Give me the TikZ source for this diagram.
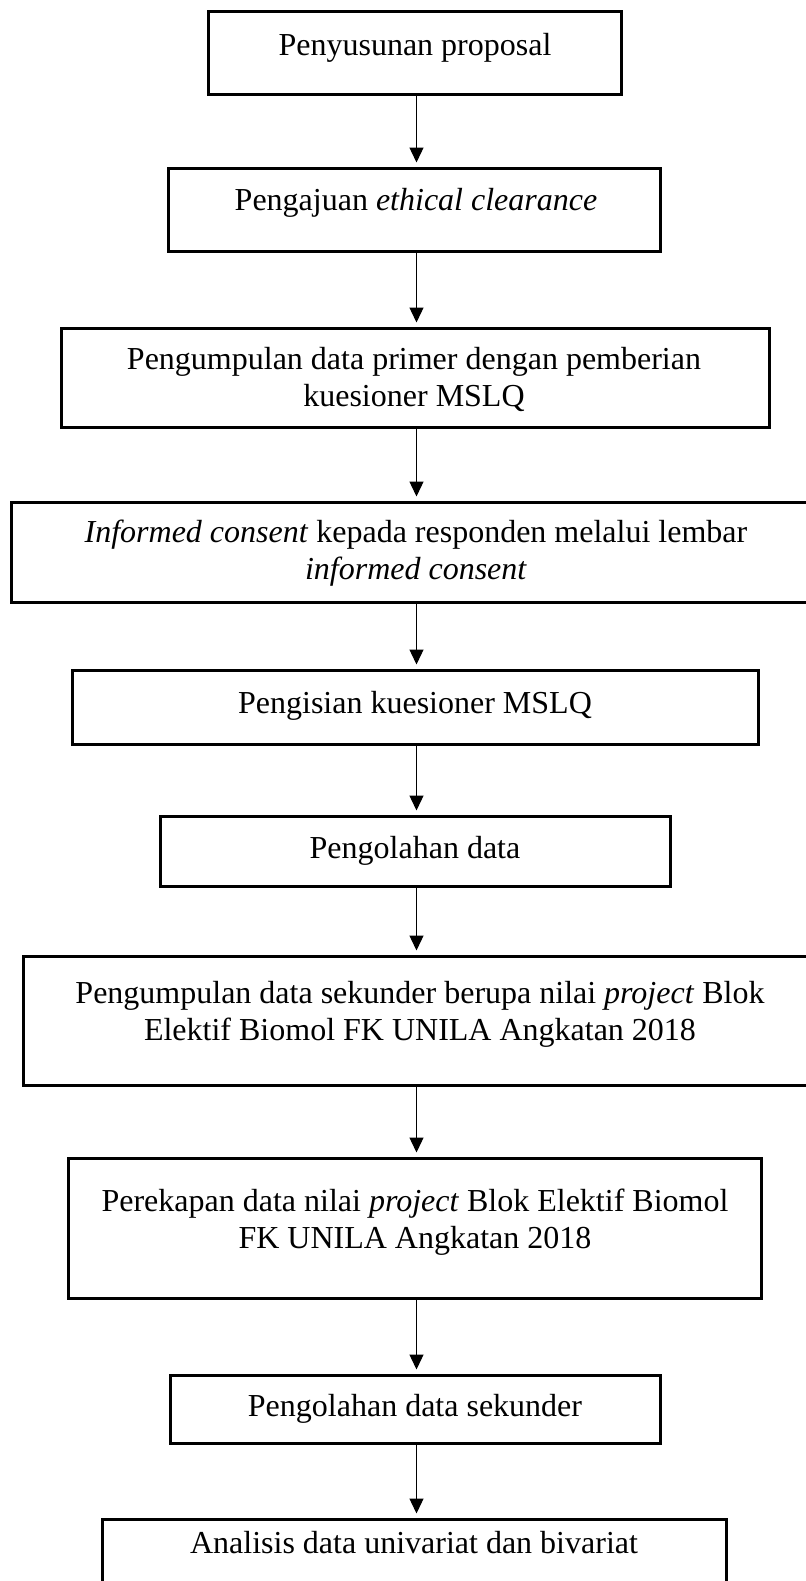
\documentclass[tikz,border=0pt]{standalone}
\usepackage{fontspec}
\setmainfont{Liberation Serif}
\usetikzlibrary{arrows.meta}
\begin{document}
\begin{tikzpicture}[x=0.5pt,y=-0.5pt,
  stepbox/.style={draw=black,line width=1.5pt,inner sep=0pt,fill=none},
  lbl/.style={inner sep=0pt,align=center,anchor=base,font=\fontsize{16}{18.5}\selectfont},
  arr/.style={line width=0.65pt,-{Triangle[length=7.5pt,width=7pt]},shorten >=2pt}]
\useasboundingbox (0,0) rectangle (806,1581);
\clip (0,0) rectangle (806,1581);
\node[stepbox,minimum width=206.5pt,minimum height=41.5pt] (b1) at (414.5,52.5) {};
\node[stepbox,minimum width=246pt,minimum height=41.5pt] (b2) at (414,209.5) {};
\node[stepbox,minimum width=354pt,minimum height=49.5pt] (b3) at (415,377.5) {};
\node[stepbox,minimum width=404pt,minimum height=50pt] (b4) at (415,552) {};
\node[stepbox,minimum width=343pt,minimum height=37pt] (b5) at (415,707) {};
\node[stepbox,minimum width=255pt,minimum height=35pt] (b6) at (415,851) {};
\node[stepbox,minimum width=392pt,minimum height=64.5pt] (b7) at (415,1020.5) {};
\node[stepbox,minimum width=346.5pt,minimum height=70pt] (b8) at (414.5,1228) {};
\node[stepbox,minimum width=245pt,minimum height=34pt] (b9) at (415,1409) {};
\node[stepbox,minimum width=312pt,minimum height=45.5pt] (b10) at (414,1564.5) {};

\node[lbl] (t1) at (415,55) {Penyusunan proposal};
\node[lbl] (t2) at (416,210) {Pengajuan \textit{ethical clearance}};
\node[lbl] (t3) at (414,406) {Pengumpulan data primer dengan pemberian\\kuesioner MSLQ};
\node[lbl] (t4) at (416,579) {\textit{Informed consent} kepada responden melalui lembar\\\textit{informed consent}};
\node[lbl] (t5) at (415,713) {Pengisian kuesioner MSLQ};
\node[lbl] (t6) at (415,858) {Pengolahan data};
\node[lbl] (t7) at (420,1040) {Pengumpulan data sekunder berupa nilai \textit{project} Blok\\Elektif Biomol FK UNILA Angkatan 2018};
\node[lbl] (t8) at (415,1248) {Perekapan data nilai \textit{project} Blok Elektif Biomol\\FK UNILA Angkatan 2018};
\node[lbl] (t9) at (415,1416) {Pengolahan data sekunder};
\node[lbl] (t10) at (414,1553) {Analisis data univariat dan bivariat};

\draw[arr] (b1.south -| 416.5,0) -- (b2.north -| 416.5,0);
\draw[arr] (b2.south -| 416.5,0) -- (b3.north -| 416.5,0);
\draw[arr] (b3.south -| 416.5,0) -- (b4.north -| 416.5,0);
\draw[arr] (b4.south -| 416.5,0) -- (b5.north -| 416.5,0);
\draw[arr] (b5.south -| 416.5,0) -- (b6.north -| 416.5,0);
\draw[arr] (b6.south -| 416.5,0) -- (b7.north -| 416.5,0);
\draw[arr] (b7.south -| 416.5,0) -- (b8.north -| 416.5,0);
\draw[arr] (b8.south -| 416.5,0) -- (b9.north -| 416.5,0);
\draw[arr] (b9.south -| 416.5,0) -- (b10.north -| 416.5,0);
\end{tikzpicture}
\end{document}
